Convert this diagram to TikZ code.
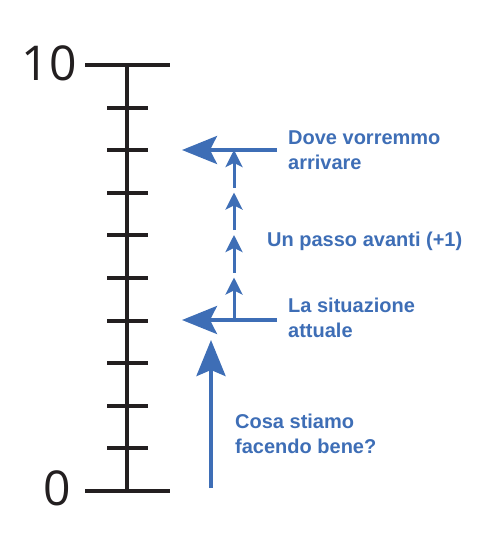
\documentclass[tikz,border=0pt]{standalone}
\usepackage{fontspec}
\setmainfont{Liberation Sans}
\newfontfamily\numfont{Open Sans}
\usetikzlibrary{arrows.meta,positioning}
\definecolor{scaleblue}{RGB}{62,110,182}
\definecolor{scaleblack}{RGB}{35,31,32}

\begin{document}
\begin{tikzpicture}[x=1pt, y=-1pt]
    \tikzstyle{note}  = [anchor=west, inner sep=0pt, align=left, text=scaleblue, font=\fontsize{20}{25}\selectfont\bfseries]
    \tikzstyle{num}   = [inner sep=0pt, text=scaleblack, font=\fontsize{48}{48}\selectfont\numfont]
    \tikzstyle{axis}  = [draw=scaleblack, line width=4pt]
    \tikzstyle{big}   = [draw=scaleblue, line width=3.5pt, -{Stealth[length=35pt, width=28pt, inset=7pt]}]
    \tikzstyle{small} = [draw=scaleblue, line width=3pt, -{Stealth[length=17pt, width=17pt, inset=4pt]}]

    \useasboundingbox (0,0) rectangle (500,543);

    % Scale from 0 to 10
    \draw [axis] (85,65) -- (170,65);
    \draw [axis] (85,491) -- (170,491);
    \draw [axis] (127,65) -- (127,491);
    \foreach \k in {1,...,9}
        \draw [axis] (107,{65+42.6*\k}) -- (148,{65+42.6*\k});
    \node [num] (ten) at (49,63) {10};
    \node [num] (zero) at (57,488) {0};

    % Place coordinates
    \coordinate (goal) at (277,150);
    \coordinate (goalTip) at (182,150);
    \coordinate (now) at (277,320);
    \coordinate (nowTip) at (182,320);
    \coordinate (base) at (211,488);
    \coordinate (baseTip) at (211,340);
    \foreach \i in {0,...,4}
        \coordinate (s\i) at (234,{320-42.5*\i});

    % Texts
    \node [note, right=11pt of goal] (dove) {Dove vorremmo\\arrivare};
    \node [note, right=11pt of now, yshift=2pt] (attuale) {La situazione\\attuale};
    \node [note] (passo) at (267,241) {Un passo avanti (+1)};
    \node [note] (cosa) at (235,433.5) {Cosa stiamo\\facendo bene?};

    % Arrows
    \path [big] (goal) -- (goalTip);
    \path [big] (now) -- (nowTip);
    \path [big, line width=4pt, -{Stealth[length=36pt, width=29pt, inset=6pt]}] (base) -- (baseTip);
    \foreach \i/\j/\gap in {0/1/0,1/2/5,2/3/5,3/4/5}
        \path [small] ([yshift=\gap pt]s\i) -- (s\j);
\end{tikzpicture}
\end{document}
